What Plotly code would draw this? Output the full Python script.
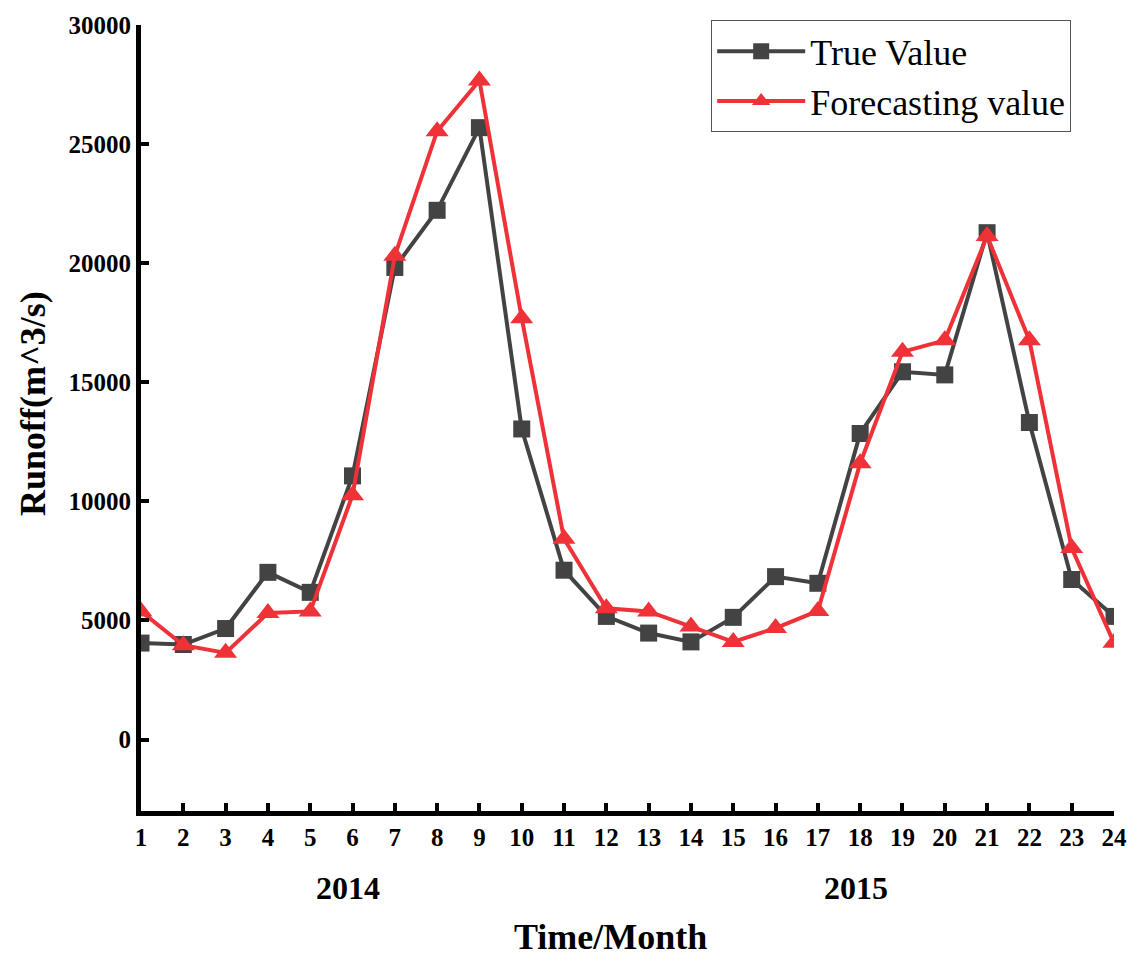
import plotly.graph_objects as go

months = list(range(1, 25))
true_value = [4050, 3990, 4660, 7020, 6180, 11070, 19820, 22220, 25690, 13040, 7110, 5170,
              4470, 4100, 5130, 6840, 6560, 12850, 15440, 15310, 21280, 13310, 6720, 5170]
forecast_value = [5380, 3960, 3640, 5310, 5380, 10260, 20310, 25540, 27670, 17690, 8430, 5510,
                  5380, 4750, 4100, 4680, 5400, 11600, 16280, 16760, 21140, 16760, 8040, 4060]
y_ticks = [0, 5000, 10000, 15000, 20000, 25000, 30000]
y_tick_text = ["0", "5000", "10000", "15000", "20000", "25000", "30000"]
year_labels = ["2014", "2015"]
year_pos = [5.9, 17.9]

FONT = "Liberation Serif"
GRAY = "#434343"
RED = "#ee3237"

fig = go.Figure()
fig.add_trace(go.Scatter(
    x=months, y=true_value, name="True Value", mode="lines+markers",
    line=dict(color=GRAY, width=4),
    marker=dict(symbol="square", size=17, color=GRAY),
))
fig.add_trace(go.Scatter(
    x=months, y=forecast_value, name="Forecasting value", mode="lines+markers",
    line=dict(color=RED, width=4),
    marker=dict(symbol="triangle-up", size=20, color=RED),
))

fig.update_layout(
    width=1139, height=961,
    margin=dict(l=141, r=17, t=19, b=150),
    paper_bgcolor="white", plot_bgcolor="white",
    font=dict(family=FONT, color="black"),
    legend=dict(
        x=0.586, y=1.006, xanchor="left", yanchor="top",
        bordercolor="#555555", borderwidth=1, bgcolor="white",
        font=dict(family=FONT, size=36, color="black"),
        itemwidth=88, tracegroupgap=0,
    ),
    xaxis=dict(
        range=[1, 24], tickmode="array", tickvals=months, ticktext=[str(m) for m in months],
        showline=True, linecolor="black", linewidth=5, ticks="inside", ticklen=8,
        tickwidth=4, tickcolor="black", showgrid=False, zeroline=False,
        tickfont=dict(family=FONT, size=25, weight="bold", color="black"),
    ),
    yaxis=dict(
        range=[-3000, 30000], tickmode="array", tickvals=y_ticks, ticktext=y_tick_text,
        showline=True, linecolor="black", linewidth=5, ticks="inside", ticklen=8,
        tickwidth=4, tickcolor="black", showgrid=False, zeroline=False,
        tickfont=dict(family=FONT, size=25, weight="bold", color="black"),
    ),
)

fig.add_annotation(text="<b>Runoff(m^3/s)</b>", xref="paper", yref="paper",
                   x=-0.111, y=0.519, textangle=-90, showarrow=False,
                   font=dict(family=FONT, size=36, color="black"),
                   xanchor="center", yanchor="middle")
for lab, pos in zip(year_labels, year_pos):
    fig.add_annotation(text=f"<b>{lab}</b>", xref="x", yref="paper", x=pos, y=-0.0985,
                       showarrow=False, font=dict(family=FONT, size=32, color="black"),
                       xanchor="center", yanchor="middle")
fig.add_annotation(text="<b>Time/Month</b>", xref="paper", yref="paper", x=0.483, y=-0.188,
                   showarrow=False, font=dict(family=FONT, size=36, color="black"),
                   xanchor="center", yanchor="bottom")

fig.write_html("out.html")
